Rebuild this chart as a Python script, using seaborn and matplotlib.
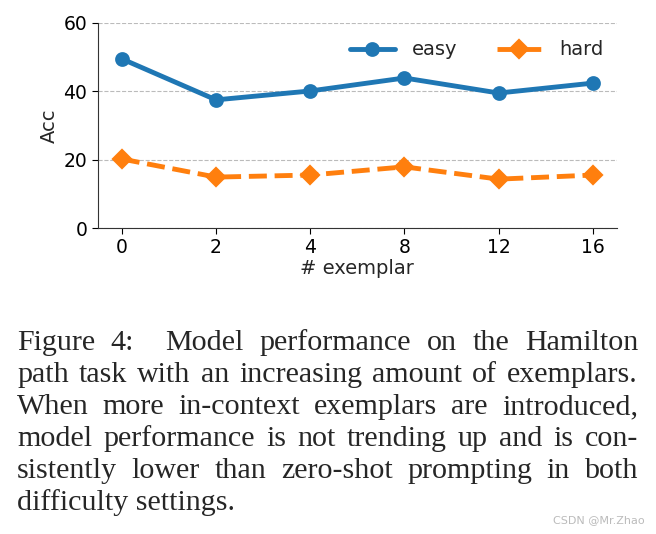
import pandas as pd
import matplotlib
matplotlib.use("Agg")
import matplotlib.pyplot as plt
import seaborn as sns

# Datos
exemplars = ["0", "2", "4", "8", "12", "16"]
easy_acc = [49.5, 37.5, 40.1, 43.9, 39.5, 42.4]
hard_acc = [20.2, 14.9, 15.5, 17.9, 14.3, 15.5]

caption_lines = [
    "Figure 4:  Model performance on the Hamilton",
    "path task with an increasing amount of exemplars.",
    "When more in-context exemplars are introduced,",
    "model performance is not trending up and is con-",
    "sistently lower than zero-shot prompting in both",
    "difficulty settings.",
]

df = pd.DataFrame({
    "exemplar": exemplars * 2,
    "acc": easy_acc + hard_acc,
    "setting": ["easy"] * len(exemplars) + ["hard"] * len(exemplars),
})

sns.set_style("ticks")
plt.rcParams["font.family"] = ["DejaVu Sans"]

fig = plt.figure(figsize=(6.56, 5.34), dpi=100)
ax = fig.add_axes([0.149, 0.573, 0.7915, 0.384])

sns.pointplot(data=df, x="exemplar", y="acc", hue="setting", order=exemplars,
              palette=["#1f77b4", "#ff7f0e"], markers=["o", "D"],
              linestyles=["-", "--"], ax=ax, errorbar=None,
              markersize=8, linewidth=3.5)

ax.set_xlim(-0.255, 5.255)
ax.set_ylim(0, 60)
ax.set_yticks([0, 20, 40, 60])
ax.yaxis.grid(True, linestyle="--", color="#bbbbbb", linewidth=0.8)
ax.set_axisbelow(True)
ax.set_xlabel("# exemplar", fontsize=14, labelpad=1)
ax.set_ylabel("Acc", fontsize=14, labelpad=3)
ax.tick_params(labelsize=13.5, colors="black", length=4)
for s in ["left", "bottom"]:
    ax.spines[s].set_color("#333333")
sns.despine(ax=ax)

leg = ax.legend(loc="upper right", ncol=2, frameon=False, fontsize=14,
                handlelength=2.3, columnspacing=2.0, handletextpad=0.9,
                bbox_to_anchor=(1.007, 1.0))

# Pie de figura justificado
fig.canvas.draw()
renderer = fig.canvas.get_renderer()
x_left, x_right = 17, 638
W, H = fig.get_size_inches() * fig.dpi

t = fig.text(0, 0, caption_lines[1], fontsize=18, family="Liberation Serif")
fs = 0.97 * 18 * (x_right - x_left) / t.get_window_extent(renderer).width
t.remove()

y_pos = [343, 375, 407, 439, 471, 503]
for i, line in enumerate(caption_lines):
    words = line.split(" ")
    y = 1 - y_pos[i] / H
    if i == len(caption_lines) - 1:
        fig.text(x_left / W, y, line, fontsize=fs, family="Liberation Serif", va="center")
        continue
    widths = []
    for w in words:
        t = fig.text(0, 0, w, fontsize=fs, family="Liberation Serif")
        widths.append(t.get_window_extent(renderer).width if w else 0)
        t.remove()
    gap = (x_right - x_left - sum(widths)) / (len(words) - 1)
    x = x_left
    for w, wd in zip(words, widths):
        if w:
            fig.text(x / W, y, w, fontsize=fs, family="Liberation Serif", va="center")
        x += wd + gap

fig.text(645 / W, 1 - 520 / H, "CSDN @Mr.Zhao", fontsize=8, color="#bbbbbb", ha="right", va="center")

fig.savefig("out.png", dpi=100)
